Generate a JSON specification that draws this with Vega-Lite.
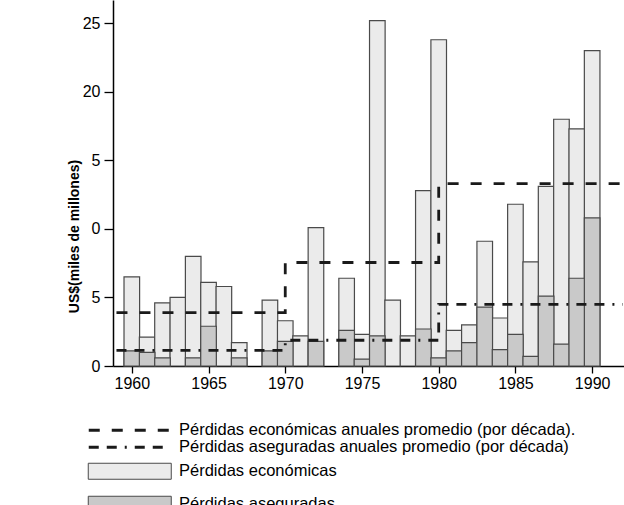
{
  "$schema": "https://vega.github.io/schema/vega-lite/v6.json",
  "width": 511,
  "height": 366,
  "autosize": {"type": "none"},
  "padding": {"left": 113, "top": 0, "right": 0, "bottom": 139},
  "background": "white",
  "config": {
    "view": {"stroke": null},
    "font": "Liberation Sans"
  },
  "datasets": {
    "anual": [
      {"anio": 1960, "tipo": "Pérdidas económicas", "valor": 6.5},
      {"anio": 1961, "tipo": "Pérdidas económicas", "valor": 2.1},
      {"anio": 1962, "tipo": "Pérdidas económicas", "valor": 4.6},
      {"anio": 1963, "tipo": "Pérdidas económicas", "valor": 5.0},
      {"anio": 1964, "tipo": "Pérdidas económicas", "valor": 8.0},
      {"anio": 1965, "tipo": "Pérdidas económicas", "valor": 6.1},
      {"anio": 1966, "tipo": "Pérdidas económicas", "valor": 5.8},
      {"anio": 1967, "tipo": "Pérdidas económicas", "valor": 1.7},
      {"anio": 1969, "tipo": "Pérdidas económicas", "valor": 4.8},
      {"anio": 1970, "tipo": "Pérdidas económicas", "valor": 3.3},
      {"anio": 1971, "tipo": "Pérdidas económicas", "valor": 2.2},
      {"anio": 1972, "tipo": "Pérdidas económicas", "valor": 10.1},
      {"anio": 1974, "tipo": "Pérdidas económicas", "valor": 6.4},
      {"anio": 1975, "tipo": "Pérdidas económicas", "valor": 2.3},
      {"anio": 1976, "tipo": "Pérdidas económicas", "valor": 25.2},
      {"anio": 1977, "tipo": "Pérdidas económicas", "valor": 4.8},
      {"anio": 1978, "tipo": "Pérdidas económicas", "valor": 2.2},
      {"anio": 1979, "tipo": "Pérdidas económicas", "valor": 12.8},
      {"anio": 1980, "tipo": "Pérdidas económicas", "valor": 23.8},
      {"anio": 1981, "tipo": "Pérdidas económicas", "valor": 2.6},
      {"anio": 1982, "tipo": "Pérdidas económicas", "valor": 3.0},
      {"anio": 1983, "tipo": "Pérdidas económicas", "valor": 9.1},
      {"anio": 1984, "tipo": "Pérdidas económicas", "valor": 3.5},
      {"anio": 1985, "tipo": "Pérdidas económicas", "valor": 11.8},
      {"anio": 1986, "tipo": "Pérdidas económicas", "valor": 7.6},
      {"anio": 1987, "tipo": "Pérdidas económicas", "valor": 13.1},
      {"anio": 1988, "tipo": "Pérdidas económicas", "valor": 18.0},
      {"anio": 1989, "tipo": "Pérdidas económicas", "valor": 17.3},
      {"anio": 1990, "tipo": "Pérdidas económicas", "valor": 23.0},
      {"anio": 1960, "tipo": "Pérdidas aseguradas", "valor": 1.1},
      {"anio": 1961, "tipo": "Pérdidas aseguradas", "valor": 1.0},
      {"anio": 1962, "tipo": "Pérdidas aseguradas", "valor": 0.6},
      {"anio": 1964, "tipo": "Pérdidas aseguradas", "valor": 0.6},
      {"anio": 1965, "tipo": "Pérdidas aseguradas", "valor": 2.9},
      {"anio": 1967, "tipo": "Pérdidas aseguradas", "valor": 0.6},
      {"anio": 1969, "tipo": "Pérdidas aseguradas", "valor": 1.1},
      {"anio": 1970, "tipo": "Pérdidas aseguradas", "valor": 1.8},
      {"anio": 1972, "tipo": "Pérdidas aseguradas", "valor": 1.8},
      {"anio": 1974, "tipo": "Pérdidas aseguradas", "valor": 2.6},
      {"anio": 1975, "tipo": "Pérdidas aseguradas", "valor": 0.5},
      {"anio": 1976, "tipo": "Pérdidas aseguradas", "valor": 2.2},
      {"anio": 1979, "tipo": "Pérdidas aseguradas", "valor": 2.7},
      {"anio": 1980, "tipo": "Pérdidas aseguradas", "valor": 0.6},
      {"anio": 1981, "tipo": "Pérdidas aseguradas", "valor": 1.1},
      {"anio": 1982, "tipo": "Pérdidas aseguradas", "valor": 1.7},
      {"anio": 1983, "tipo": "Pérdidas aseguradas", "valor": 4.3},
      {"anio": 1984, "tipo": "Pérdidas aseguradas", "valor": 1.2},
      {"anio": 1985, "tipo": "Pérdidas aseguradas", "valor": 2.3},
      {"anio": 1986, "tipo": "Pérdidas aseguradas", "valor": 0.7},
      {"anio": 1987, "tipo": "Pérdidas aseguradas", "valor": 5.1},
      {"anio": 1988, "tipo": "Pérdidas aseguradas", "valor": 1.6},
      {"anio": 1989, "tipo": "Pérdidas aseguradas", "valor": 6.4},
      {"anio": 1990, "tipo": "Pérdidas aseguradas", "valor": 10.8}
    ],
    "promedios": [
      {"anio": 1959, "serie": "Pérdidas económicas anuales promedio (por década).", "valor": 3.9},
      {"anio": 1970, "serie": "Pérdidas económicas anuales promedio (por década).", "valor": 7.55},
      {"anio": 1980, "serie": "Pérdidas económicas anuales promedio (por década).", "valor": 13.3},
      {"anio": 1992, "serie": "Pérdidas económicas anuales promedio (por década).", "valor": 13.3},
      {"anio": 1959, "serie": "Pérdidas aseguradas anuales promedio (por década)", "valor": 1.14},
      {"anio": 1970, "serie": "Pérdidas aseguradas anuales promedio (por década)", "valor": 1.88},
      {"anio": 1980, "serie": "Pérdidas aseguradas anuales promedio (por década)", "valor": 4.5},
      {"anio": 1992, "serie": "Pérdidas aseguradas anuales promedio (por década)", "valor": 4.5}
    ]
  },
  "encoding": {
    "x": {
      "field": "anio",
      "type": "quantitative",
      "scale": {"domain": [1959.1, 1991.75], "nice": false, "zero": false},
      "axis": {
        "title": null,
        "values": [1960, 1965, 1970, 1975, 1980, 1985, 1990],
        "format": "d",
        "grid": false,
        "domainColor": "black",
        "domainWidth": 1.5,
        "tickColor": "black",
        "tickWidth": 1.3,
        "tickSize": 7,
        "labelFontSize": 16,
        "labelColor": "black",
        "labelPadding": 2,
        "labelFont": "Liberation Sans"
      }
    },
    "y": {
      "field": "valor",
      "type": "quantitative",
      "scale": {"domain": [0, 26.7], "nice": false},
      "axis": {
        "title": "US$(miles de millones)",
        "titleFontWeight": "bold",
        "titleFontSize": 14,
        "titleColor": "black",
        "titleX": -32,
        "titleY": 236,
        "titleFont": "Liberation Sans",
        "values": [0, 5, 10, 15, 20, 25],
        "labelExpr": "datum.value == 15 ? '5' : datum.value == 10 ? '0' : datum.label",
        "grid": false,
        "domainColor": "black",
        "domainWidth": 1.5,
        "tickColor": "black",
        "tickWidth": 1.3,
        "tickSize": 9,
        "labelFontSize": 16,
        "labelColor": "black",
        "labelPadding": 4,
        "labelFont": "Liberation Sans"
      }
    }
  },
  "layer": [
    {
      "data": {"name": "anual"},
      "transform": [{"filter": "datum.tipo == 'Pérdidas económicas'"}],
      "mark": {"type": "bar", "width": 15.6, "stroke": "#4a4a4a", "strokeWidth": 1.2, "opacity": 1},
      "encoding": {
        "fill": {
          "field": "tipo",
          "type": "nominal",
          "scale": {"domain": ["Pérdidas económicas", "Pérdidas aseguradas"], "range": ["#ebebeb", "#c9c9c9"]},
          "legend": {
            "title": null,
            "orient": "none",
            "legendX": 8.5,
            "legendY": 463,
            "padding": 0,
            "symbolType": "M-8.3,-1.6H8.3V1.6H-8.3Z",
            "symbolSize": 100,
            "symbolStrokeColor": "#444",
            "symbolStrokeWidth": 1,
            "symbolOpacity": 1,
            "labelOffset": 41,
            "labelFontSize": 16.5,
            "labelColor": "black",
            "labelFont": "Liberation Sans",
            "labelLimit": 0,
            "rowPadding": 12
          }
        }
      }
    },
    {
      "data": {"name": "anual"},
      "transform": [{"filter": "datum.tipo == 'Pérdidas aseguradas'"}],
      "mark": {"type": "bar", "width": 15.6, "stroke": "#4a4a4a", "strokeWidth": 1.2, "opacity": 1},
      "encoding": {
        "fill": {"field": "tipo", "type": "nominal"}
      }
    },
    {
      "data": {"name": "promedios"},
      "mark": {"type": "line", "interpolate": "step-after", "color": "#1a1a1a", "strokeWidth": 2.8, "clip": true},
      "encoding": {
        "strokeDash": {
          "field": "serie",
          "type": "nominal",
          "scale": {
            "domain": ["Pérdidas económicas anuales promedio (por década).", "Pérdidas aseguradas anuales promedio (por década)"],
            "range": [[11, 12], [10, 8, 10, 8, 2, 8]]
          },
          "legend": {
            "title": null,
            "orient": "none",
            "legendX": 8.5,
            "legendY": 422,
            "padding": 0,
            "symbolType": "M-8.2,0H8.2",
            "symbolSize": 100,
            "symbolStrokeColor": "#1a1a1a",
            "symbolStrokeWidth": 2.8,
            "labelOffset": 41,
            "labelFontSize": 16.5,
            "labelColor": "black",
            "labelFont": "Liberation Sans",
            "labelLimit": 0,
            "rowPadding": 0
          }
        }
      }
    }
  ]
}
